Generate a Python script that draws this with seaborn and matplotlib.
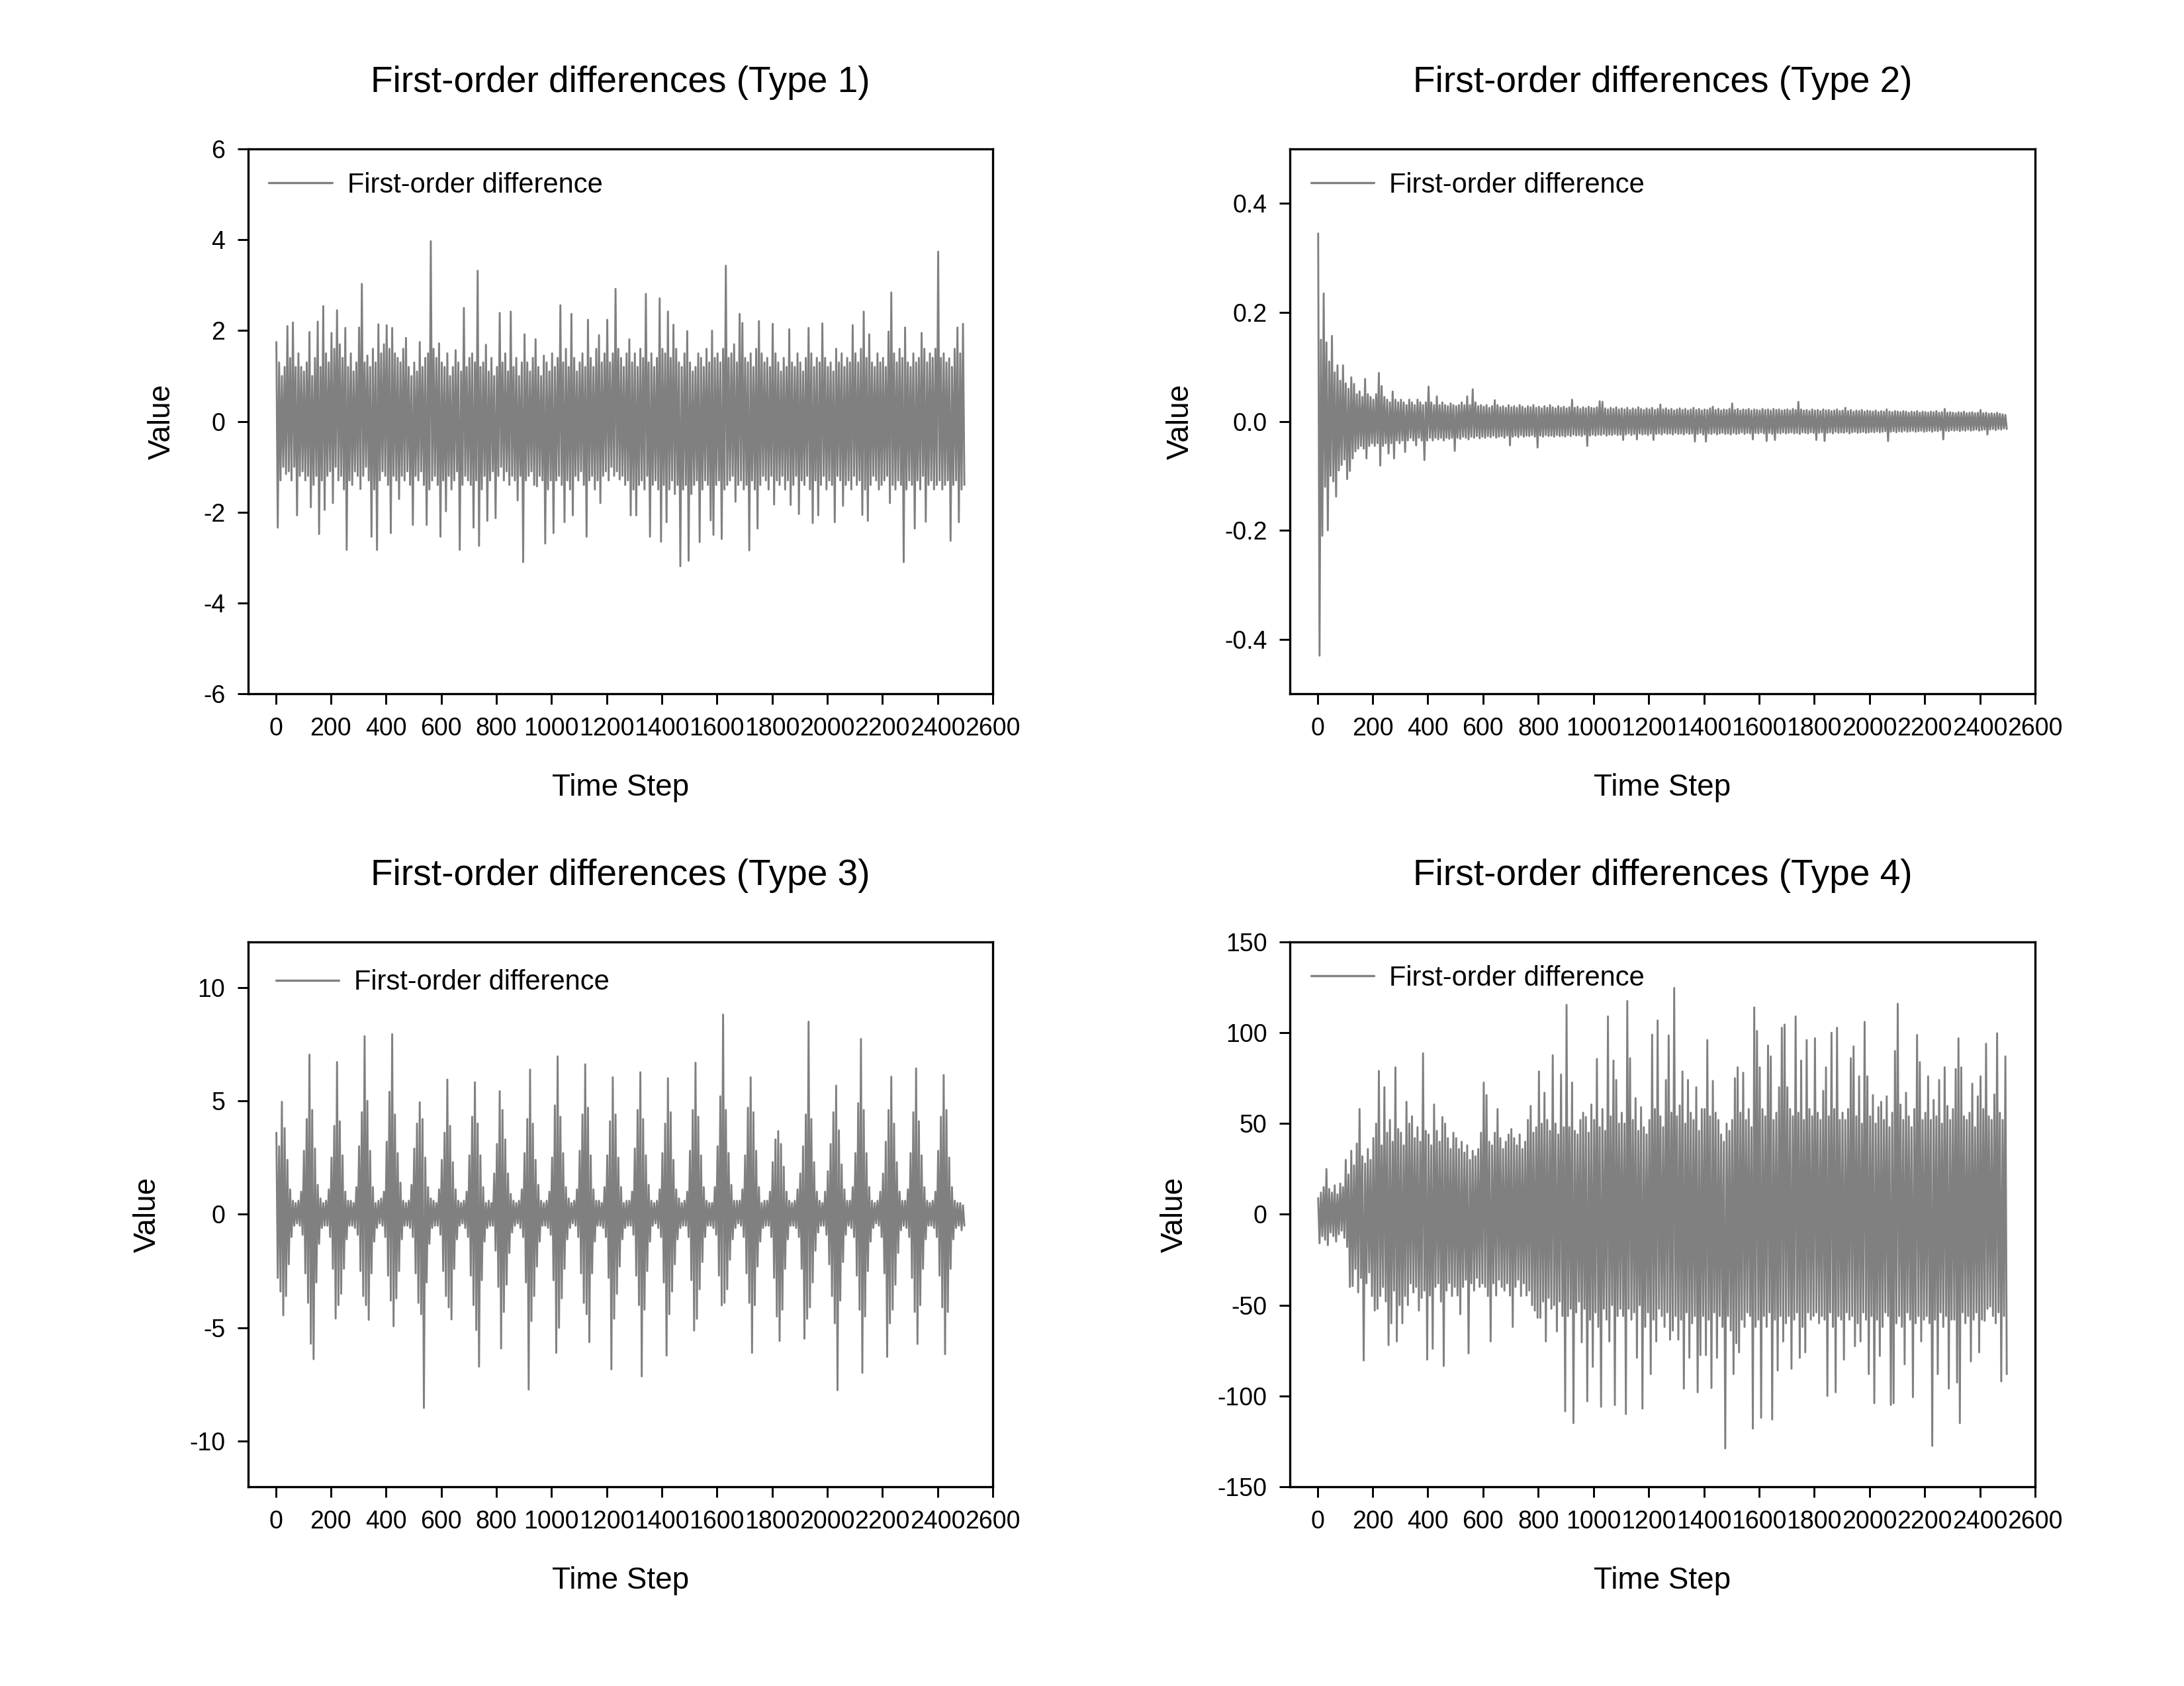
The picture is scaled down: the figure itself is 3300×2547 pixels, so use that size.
import numpy as np
import pandas as pd
import matplotlib
matplotlib.use("Agg")
import matplotlib.pyplot as plt
import seaborn as sns

# ---------------- data (per 10-step window: local high / local low) -------------
bin_width = 10
xticks_time = list(range(0, 2601, 200))

titles = ["First-order differences (Type 1)", "First-order differences (Type 2)",
          "First-order differences (Type 3)", "First-order differences (Type 4)"]
legend_label = "First-order difference"
x_label = "Time Step"
y_label = "Value"

type1_hi = [
    1.75, 1.3, 1.0, 1.2, 2.1, 1.4, 2.18, 1.2, 1.5, 1.2,
    1.1, 1.3, 1.97, 1.0, 1.4, 2.2, 1.2, 2.54, 1.5, 1.3,
    1.95, 1.6, 2.45, 1.7, 1.4, 2.06, 1.2, 1.5, 1.1, 1.3,
    2.07, 3.03, 1.3, 1.45, 1.2, 1.6, 1.3, 2.14, 1.5, 1.7,
    2.12, 1.6, 2.06, 1.5, 1.4, 1.3, 1.6, 1.84, 1.2, 1.0,
    1.3, 1.1, 1.75, 1.2, 1.4, 1.5, 3.97, 1.6, 1.4, 1.72,
    1.3, 1.2, 1.5, 1.0, 1.2, 1.57, 1.3, 1.1, 2.5, 1.2,
    1.4, 1.5, 1.3, 3.32, 1.2, 1.3, 1.69, 1.1, 1.4, 1.0,
    1.2, 2.39, 1.3, 1.5, 1.1, 2.42, 1.2, 1.4, 1.0, 1.3,
    1.92, 1.3, 1.1, 1.4, 1.81, 1.2, 1.0, 1.45, 1.3, 1.1,
    1.5, 1.2, 1.4, 2.56, 1.3, 1.6, 1.2, 2.37, 1.4, 1.1,
    1.3, 1.5, 1.2, 2.24, 1.4, 1.2, 1.6, 1.9, 1.3, 1.5,
    2.24, 1.3, 1.5, 2.92, 1.6, 1.4, 1.2, 1.5, 1.81, 1.3,
    1.5, 1.2, 1.6, 1.4, 2.81, 1.3, 1.5, 1.2, 1.4, 2.71,
    1.6, 1.5, 2.42, 1.4, 2.13, 1.6, 1.3, 1.2, 1.5, 1.99,
    1.3, 1.1, 1.2, 1.5, 1.4, 1.2, 1.6, 1.3, 2.0, 1.4,
    1.5, 1.3, 1.6, 3.43, 1.4, 1.5, 1.7, 1.3, 2.37, 2.17,
    1.4, 1.3, 1.5, 1.2, 1.6, 2.21, 1.5, 1.3, 1.4, 1.2,
    2.15, 1.5, 1.3, 1.1, 1.4, 1.2, 2.03, 1.3, 1.2, 1.5,
    1.3, 1.1, 1.4, 2.06, 1.5, 1.2, 1.4, 1.3, 2.16, 1.4,
    1.2, 1.3, 1.1, 1.6, 1.3, 1.5, 1.2, 1.4, 1.3, 2.12,
    1.5, 1.3, 1.6, 2.42, 1.4, 1.92, 1.3, 1.2, 1.5, 1.3,
    1.4, 1.2, 1.98, 2.84, 1.5, 1.3, 1.6, 1.4, 2.07, 1.3,
    1.2, 1.5, 1.3, 1.4, 1.95, 1.6, 1.3, 1.5, 1.4, 1.6,
    3.74, 1.4, 1.5, 1.3, 1.39, 1.2, 1.6, 2.07, 1.5, 2.15,
]
type1_lo = [
    -2.34, -1.3, -1.0, -1.16, -1.1, -1.3, -1.0, -2.07, -1.2, -1.1,
    -1.3, -1.2, -1.89, -1.4, -1.2, -2.48, -1.3, -1.95, -1.2, -1.1,
    -1.8, -1.0, -1.3, -1.2, -1.5, -2.83, -1.3, -1.4, -1.1, -1.2,
    -1.49, -1.2, -1.0, -1.3, -2.54, -1.5, -2.83, -1.3, -1.1, -1.2,
    -1.4, -2.46, -1.2, -1.3, -1.71, -1.2, -1.3, -1.1, -1.4, -2.28,
    -1.2, -1.3, -1.1, -1.4, -2.28, -1.5, -1.3, -1.2, -1.4, -2.54,
    -1.3, -1.98, -1.2, -1.5, -1.3, -1.1, -2.83, -1.4, -1.2, -1.3,
    -1.4, -2.34, -1.3, -2.74, -1.5, -1.2, -2.19, -1.3, -1.1, -2.13,
    -1.2, -1.0, -1.3, -1.1, -1.4, -1.2, -1.3, -1.74, -1.2, -3.1,
    -1.3, -1.2, -1.1, -1.4, -1.43, -1.2, -1.3, -2.69, -1.5, -1.3,
    -2.46, -1.3, -1.2, -1.4, -2.22, -1.3, -1.5, -2.07, -1.2, -1.3,
    -1.1, -1.4, -2.54, -1.3, -1.2, -1.5, -1.3, -1.8, -1.2, -1.1,
    -1.3, -1.0, -1.2, -1.1, -1.28, -1.2, -1.4, -1.3, -2.07, -1.5,
    -2.07, -1.4, -1.3, -1.5, -1.2, -2.54, -1.4, -1.3, -1.5, -2.65,
    -1.4, -2.22, -1.5, -1.3, -1.6, -1.4, -3.19, -1.5, -1.4, -3.07,
    -1.6, -1.4, -1.3, -2.66, -1.5, -1.3, -1.4, -2.18, -2.5, -1.4,
    -1.3, -2.59, -1.5, -1.4, -1.3, -1.2, -1.77, -1.4, -1.3, -1.5,
    -1.4, -2.84, -1.3, -1.5, -2.36, -1.4, -1.2, -1.3, -1.5, -1.2,
    -1.83, -1.3, -1.4, -1.2, -1.5, -1.3, -1.84, -1.4, -1.2, -2.04,
    -1.3, -1.4, -1.2, -1.5, -2.24, -1.3, -2.07, -1.4, -1.2, -1.5,
    -1.3, -1.4, -2.22, -1.2, -1.3, -1.86, -1.4, -1.3, -1.5, -1.2,
    -1.4, -1.3, -2.06, -1.5, -2.19, -1.4, -1.2, -1.3, -1.5, -1.4,
    -1.3, -1.2, -1.8, -1.4, -1.5, -1.3, -1.4, -3.1, -1.5, -1.3,
    -1.4, -2.36, -1.3, -1.5, -1.2, -2.21, -1.4, -1.3, -1.5, -1.4,
    -1.3, -1.5, -1.4, -1.3, -2.63, -1.4, -1.3, -2.22, -1.5, -1.4,
]

type2_hi = [
    0.345, 0.15, 0.235, 0.145, 0.11, 0.157, 0.09, 0.103, 0.075, 0.103,
    0.07, 0.06, 0.081, 0.069, 0.05, 0.055, 0.045, 0.078, 0.05, 0.045,
    0.04, 0.05, 0.089, 0.065, 0.045, 0.04, 0.035, 0.055, 0.04, 0.035,
    0.04, 0.035, 0.03, 0.04, 0.035, 0.03, 0.04, 0.035, 0.03, 0.035,
    0.064, 0.035, 0.03, 0.046, 0.03, 0.035, 0.03, 0.028, 0.033, 0.03,
    0.028, 0.03, 0.035, 0.03, 0.046, 0.03, 0.059, 0.035, 0.028, 0.03,
    0.027, 0.03, 0.025, 0.028, 0.039, 0.03, 0.026, 0.028, 0.025, 0.03,
    0.026, 0.028, 0.025, 0.03, 0.027, 0.024, 0.028, 0.026, 0.03, 0.025,
    0.027, 0.024, 0.028, 0.025, 0.03, 0.026, 0.024, 0.028, 0.025, 0.027,
    0.024, 0.026, 0.04, 0.025, 0.027, 0.023, 0.026, 0.024, 0.027, 0.025,
    0.024, 0.026, 0.037, 0.036, 0.024, 0.022, 0.025, 0.023, 0.026, 0.022,
    0.024, 0.022, 0.025, 0.021, 0.024, 0.022, 0.026, 0.023, 0.021, 0.024,
    0.022, 0.025, 0.021, 0.023, 0.031, 0.022, 0.024, 0.021, 0.023, 0.02,
    0.022, 0.024, 0.021, 0.023, 0.02, 0.022, 0.025, 0.021, 0.023, 0.02,
    0.022, 0.021, 0.024, 0.027, 0.021, 0.023, 0.02, 0.022, 0.021, 0.023,
    0.033, 0.021, 0.023, 0.02, 0.022, 0.021, 0.023, 0.02, 0.022, 0.021,
    0.02, 0.023, 0.021, 0.022, 0.02, 0.023, 0.021, 0.022, 0.02, 0.021,
    0.022, 0.02, 0.023, 0.021, 0.036, 0.022, 0.02, 0.021, 0.019, 0.022,
    0.02, 0.021, 0.019, 0.022, 0.02, 0.021, 0.019, 0.02, 0.022, 0.019,
    0.02, 0.025, 0.019, 0.021, 0.018, 0.02, 0.019, 0.021, 0.018, 0.02,
    0.019, 0.018, 0.02, 0.017, 0.019, 0.018, 0.022, 0.018, 0.017, 0.019,
    0.018, 0.017, 0.019, 0.018, 0.016, 0.018, 0.017, 0.019, 0.016, 0.018,
    0.017, 0.016, 0.018, 0.017, 0.019, 0.016, 0.017, 0.023, 0.016, 0.017,
    0.016, 0.015, 0.017, 0.016, 0.018, 0.015, 0.016, 0.017, 0.015, 0.016,
    0.021, 0.015, 0.016, 0.014, 0.015, 0.014, 0.016, 0.014, 0.013, 0.012,
]
type2_lo = [
    -0.43, -0.21, -0.12, -0.2, -0.1, -0.11, -0.138, -0.09, -0.08, -0.07,
    -0.106, -0.091, -0.068, -0.055, -0.05, -0.045, -0.05, -0.068, -0.045, -0.04,
    -0.045, -0.04, -0.081, -0.045, -0.04, -0.059, -0.04, -0.068, -0.035, -0.04,
    -0.035, -0.056, -0.035, -0.03, -0.035, -0.044, -0.03, -0.035, -0.071, -0.035,
    -0.03, -0.035, -0.03, -0.033, -0.03, -0.035, -0.03, -0.032, -0.03, -0.054,
    -0.03, -0.032, -0.028, -0.03, -0.033, -0.028, -0.03, -0.027, -0.031, -0.028,
    -0.03, -0.027, -0.029, -0.026, -0.03, -0.028, -0.027, -0.03, -0.026, -0.044,
    -0.028, -0.026, -0.029, -0.025, -0.028, -0.026, -0.027, -0.025, -0.028, -0.048,
    -0.026, -0.028, -0.025, -0.027, -0.026, -0.028, -0.025, -0.027, -0.026, -0.028,
    -0.025, -0.027, -0.024, -0.026, -0.025, -0.027, -0.024, -0.045, -0.026, -0.024,
    -0.026, -0.024, -0.025, -0.023, -0.026, -0.024, -0.025, -0.023, -0.025, -0.024,
    -0.034, -0.024, -0.022, -0.025, -0.023, -0.033, -0.022, -0.024, -0.023, -0.025,
    -0.022, -0.034, -0.023, -0.022, -0.024, -0.021, -0.023, -0.022, -0.024, -0.021,
    -0.023, -0.022, -0.024, -0.021, -0.023, -0.022, -0.037, -0.023, -0.021, -0.024,
    -0.037, -0.022, -0.023, -0.021, -0.024, -0.022, -0.021, -0.023, -0.022, -0.024,
    -0.021, -0.023, -0.022, -0.02, -0.023, -0.021, -0.022, -0.033, -0.021, -0.022,
    -0.02, -0.022, -0.036, -0.021, -0.023, -0.034, -0.021, -0.022, -0.02, -0.022,
    -0.021, -0.02, -0.022, -0.021, -0.023, -0.02, -0.021, -0.022, -0.02, -0.021,
    -0.034, -0.021, -0.02, -0.036, -0.021, -0.02, -0.022, -0.019, -0.021, -0.02,
    -0.021, -0.019, -0.022, -0.02, -0.019, -0.021, -0.02, -0.019, -0.021, -0.02,
    -0.019, -0.02, -0.018, -0.02, -0.019, -0.018, -0.036, -0.019, -0.018, -0.02,
    -0.018, -0.019, -0.017, -0.019, -0.018, -0.017, -0.019, -0.018, -0.017, -0.019,
    -0.018, -0.017, -0.019, -0.017, -0.018, -0.016, -0.033, -0.017, -0.018, -0.016,
    -0.017, -0.016, -0.018, -0.016, -0.017, -0.015, -0.017, -0.016, -0.015, -0.017,
    -0.016, -0.015, -0.024, -0.015, -0.014, -0.016, -0.014, -0.015, -0.013, -0.014,
]

type3_hi = [
    3.6, 3.0, 4.96, 3.8, 2.4, 1.1, 0.6, 0.5, 0.6, 1.0,
    2.8, 4.2, 7.04, 4.6, 2.9, 1.3, 0.7, 0.5, 0.6, 1.1,
    2.5, 3.9, 6.71, 4.1, 2.6, 1.0, 0.6, 0.6, 0.5, 1.2,
    3.0, 4.5, 7.85, 5.0, 2.8, 1.2, 0.5, 0.6, 0.7, 1.0,
    3.2, 5.4, 7.94, 4.4, 2.7, 1.4, 0.6, 0.5, 0.6, 1.3,
    2.9, 4.0, 4.94, 4.2, 2.5, 1.2, 0.7, 0.6, 0.5, 1.1,
    2.4, 3.6, 5.94, 3.9, 2.3, 1.1, 0.6, 0.5, 0.6, 1.0,
    2.6, 4.3, 5.82, 4.0, 2.6, 1.2, 0.5, 0.6, 0.5, 1.8,
    3.1, 5.43, 4.6, 3.3, 1.8, 0.9, 0.6, 0.5, 0.6, 1.1,
    2.7, 4.2, 6.38, 4.0, 2.4, 1.3, 0.6, 0.5, 0.6, 1.0,
    2.5, 4.8, 6.96, 4.3, 2.7, 1.2, 0.7, 0.5, 0.6, 1.1,
    2.8, 4.4, 6.61, 4.7, 2.6, 1.1, 0.6, 0.6, 0.5, 1.2,
    2.6, 4.1, 6.04, 4.4, 2.5, 1.2, 0.5, 0.6, 0.6, 1.0,
    2.9, 4.6, 6.26, 4.2, 2.6, 1.3, 0.6, 0.5, 0.6, 1.1,
    2.7, 4.0, 6.0, 4.5, 2.4, 1.1, 0.7, 0.5, 0.6, 1.0,
    2.8, 4.6, 6.68, 4.3, 2.6, 1.2, 0.6, 0.5, 0.5, 1.2,
    3.0, 5.2, 8.8, 4.6, 2.7, 1.3, 0.6, 0.6, 0.6, 1.1,
    2.6, 4.7, 6.04, 4.5, 2.8, 1.2, 0.5, 0.6, 0.6, 1.0,
    2.3, 3.3, 3.67, 3.1, 2.1, 1.0, 0.6, 0.5, 0.6, 1.1,
    1.8, 3.0, 4.4, 8.49, 4.2, 2.3, 1.0, 0.6, 0.5, 1.0,
    1.9, 3.1, 4.5, 5.67, 3.7, 2.2, 1.1, 0.6, 0.6, 1.2,
    2.7, 4.9, 7.73, 4.6, 2.7, 1.2, 0.6, 0.5, 0.6, 1.0,
    1.8, 3.2, 4.6, 6.06, 4.0, 2.3, 1.0, 0.6, 0.6, 1.1,
    2.7, 4.5, 6.43, 4.1, 2.6, 1.2, 0.6, 0.5, 0.6, 1.0,
    2.8, 4.3, 6.14, 4.6, 2.5, 1.2, 0.6, 0.5, 0.5, 0.4,
]
type3_lo = [
    -2.8, -3.4, -4.45, -3.6, -2.2, -1.0, -0.5, -0.4, -0.5, -0.9,
    -2.6, -3.9, -5.7, -6.38, -3.0, -1.3, -0.6, -0.5, -0.5, -1.0,
    -2.4, -4.59, -4.0, -3.5, -2.4, -1.1, -0.5, -0.5, -0.6, -0.9,
    -2.5, -3.6, -4.0, -4.65, -2.6, -1.2, -0.6, -0.4, -0.5, -1.0,
    -2.7, -3.8, -4.93, -3.7, -2.5, -1.1, -0.5, -0.5, -0.6, -1.0,
    -2.6, -3.9, -4.4, -8.53, -3.0, -1.3, -0.6, -0.5, -0.5, -0.9,
    -2.5, -3.6, -4.1, -4.63, -2.4, -1.1, -0.5, -0.4, -0.6, -1.0,
    -2.7, -4.0, -5.1, -6.71, -2.9, -1.2, -0.6, -0.5, -0.5, -1.6,
    -3.2, -5.91, -4.3, -3.1, -1.7, -0.8, -0.5, -0.4, -0.6, -1.0,
    -3.0, -7.72, -4.7, -3.6, -2.3, -1.2, -0.5, -0.5, -0.6, -0.9,
    -2.9, -6.1, -5.0, -3.7, -2.4, -1.1, -0.6, -0.4, -0.5, -1.0,
    -2.6, -3.9, -4.4, -5.63, -2.6, -1.2, -0.5, -0.5, -0.6, -1.0,
    -2.8, -6.83, -4.6, -3.5, -2.3, -1.1, -0.6, -0.5, -0.5, -0.9,
    -2.7, -4.0, -7.14, -4.2, -2.5, -1.2, -0.5, -0.4, -0.6, -1.0,
    -3.0, -6.22, -4.4, -3.4, -2.2, -1.1, -0.6, -0.5, -0.5, -1.0,
    -2.9, -5.12, -4.6, -3.3, -2.1, -1.0, -0.5, -0.5, -0.6, -0.9,
    -2.7, -4.01, -3.9, -3.3, -2.0, -1.1, -0.6, -0.4, -0.5, -1.0,
    -2.6, -3.9, -6.1, -4.0, -2.3, -1.2, -0.6, -0.5, -0.5, -1.0,
    -2.8, -4.5, -5.58, -4.2, -2.4, -1.1, -0.5, -0.5, -0.6, -1.0,
    -2.4, -5.48, -4.6, -4.1, -3.0, -1.6, -0.8, -0.5, -0.5, -0.9,
    -2.2, -3.6, -4.8, -7.75, -3.8, -2.1, -0.9, -0.5, -0.6, -1.0,
    -2.7, -4.2, -6.98, -4.5, -2.5, -1.2, -0.6, -0.4, -0.5, -1.0,
    -2.6, -6.28, -4.8, -4.2, -3.1, -1.7, -0.7, -0.5, -0.6, -1.0,
    -2.8, -4.3, -5.71, -4.0, -2.4, -1.1, -0.5, -0.5, -0.6, -1.0,
    -2.7, -4.1, -6.16, -4.3, -2.4, -1.1, -0.6, -0.5, -0.7, -0.5,
]

type4_hi = [
    9, 12, 15, 25, 14, 12, 16, 11, 17, 15,
    30, 22, 35, 27, 39, 58, 32, 28, 36, 30,
    42, 50, 79, 38, 70, 45, 52, 40, 81, 47,
    45, 38, 62, 50, 54, 42, 48, 40, 88.7, 46,
    44, 38, 60.5, 46, 40, 53.6, 50, 42, 36, 45,
    42, 36, 40, 34, 38, 30, 35, 32, 36, 45,
    72.6, 65.7, 40, 38, 45, 58, 42, 36, 40, 44,
    47, 42, 38, 44, 36, 40, 52, 59.7, 45, 48,
    78.7, 50, 67, 52, 46, 87.6, 50, 44, 77, 48,
    115.4, 48, 72.6, 46, 44, 52, 56, 53.6, 45, 60.5,
    52, 85.6, 48, 58, 46, 109, 54, 84.7, 74, 50,
    56, 50, 117.5, 86, 52, 64, 46, 59, 48, 44,
    52, 99, 58, 106.8, 54, 48, 74, 98.5, 56, 124.7,
    54, 60, 78.7, 50, 74, 56, 52, 70, 46, 58,
    58, 96, 54, 73.5, 56, 52, 44, 40, 50, 46,
    52, 75, 81, 56, 78, 52, 58, 48, 114, 101,
    81, 58, 54, 93, 87, 52, 56, 70, 102.8, 104.5,
    70, 58, 54, 109, 56, 84.7, 52, 96, 58, 54,
    97, 56, 52, 68, 81, 54, 100, 58, 102.8, 52,
    56, 52, 58, 86, 92.5, 54, 76, 50, 106, 76,
    54, 65.7, 50, 59, 62, 52, 65, 48, 56, 90,
    116, 60.5, 52, 67, 54, 48, 58, 98.8, 83.8, 52,
    56, 76, 52, 63, 54, 74, 50, 81, 59.7, 52,
    58, 80, 97, 81, 54, 52, 56, 72, 48, 65,
    76, 58, 94, 54, 52, 66, 99.7, 56, 52, 87,
]
type4_lo = [
    -16, -12, -14, -17, -10, -12, -15, -11, -9, -13,
    -18, -40, -39.5, -30, -43, -35, -80.5, -38, -32, -45,
    -53, -52, -45, -40, -48, -72, -60, -42, -70, -50,
    -60, -45, -50, -38, -43, -40, -53, -46, -42, -80,
    -44.7, -74, -40, -38, -48, -83.5, -42, -37.8, -45, -40,
    -44.7, -55, -40, -36, -76.6, -38, -42, -35, -40, -38,
    -40, -45, -70, -38, -44.7, -36, -40, -42, -38, -44.7,
    -62, -40, -36, -45, -38, -44.7, -42, -50, -53, -57,
    -57, -48, -70, -46, -52, -50, -64.5, -48, -56, -108.5,
    -56, -52, -115, -54, -48, -70.5, -52, -103, -58, -84,
    -54, -62, -106, -52, -58, -70, -50, -105, -56, -52,
    -56, -110, -52, -58, -54, -79, -50, -107, -62, -54,
    -88, -58, -70, -52, -56, -62, -54, -69, -64, -56,
    -69, -58, -96, -54, -79, -60, -56, -98, -77.5, -56,
    -77.5, -58, -95.6, -54, -79, -56, -62, -128.9, -56, -64,
    -88, -71, -76, -58, -62, -54, -56, -118, -62, -58,
    -112, -56, -62, -54, -113, -58, -86, -56, -70, -60,
    -56, -85, -58, -54, -79, -62, -76, -54, -58, -56,
    -54, -60, -56, -58, -100, -54, -62, -98, -56, -58,
    -80, -54, -58, -56, -72.6, -60, -70, -54, -58, -88,
    -56, -104, -58, -78, -62, -54, -56, -105, -104, -60,
    -56, -62, -82.6, -54, -58, -100.7, -60, -56, -70, -58,
    -56, -60, -127.5, -58, -88, -54, -62, -56, -96, -58,
    -58, -92.6, -115, -54, -60, -56, -81, -58, -54, -76,
    -58, -58.6, -52, -50.7, -56, -60, -54, -92, -56, -88,
]

panels = [
    dict(hi=type1_hi, lo=type1_lo, ylim=(-6, 6), yticks=[-6, -4, -2, 0, 2, 4, 6], fmt="{:.0f}",
         ylab_x=-0.096, leg=(0.0276, 0.958)),
    dict(hi=type2_hi, lo=type2_lo, ylim=(-0.5, 0.5), yticks=[-0.4, -0.2, 0.0, 0.2, 0.4], fmt="{:.1f}",
         ylab_x=-0.127, leg=(0.028, 0.958)),
    dict(hi=type3_hi, lo=type3_lo, ylim=(-12, 12), yticks=[-10, -5, 0, 5, 10], fmt="{:.0f}",
         ylab_x=-0.116, leg=(0.037, 0.95)),
    dict(hi=type4_hi, lo=type4_lo, ylim=(-150, 150), yticks=[-150, -100, -50, 0, 50, 100, 150], fmt="{:.0f}",
         ylab_x=-0.135, leg=(0.028, 0.958)),
]

# ---------------- style ----------------
sns.set_style("ticks")
plt.rcParams['font.family'] = ['Liberation Sans', 'DejaVu Sans']
plt.rcParams['axes.unicode_minus'] = False
plt.rcParams['text.color'] = 'black'
plt.rcParams['axes.labelcolor'] = 'black'
plt.rcParams['xtick.color'] = 'black'
plt.rcParams['ytick.color'] = 'black'
plt.rcParams['axes.edgecolor'] = 'black'

fig = plt.figure(figsize=(11, 8.49), dpi=300)
axes_rects = [
    [0.1136, 0.5885, 0.3409, 0.3231],
    [0.5906, 0.5885, 0.3412, 0.3231],
    [0.1136, 0.1182, 0.3409, 0.3231],
    [0.5906, 0.1182, 0.3412, 0.3231],
]
line_color = "#808080"

for rect, p, title in zip(axes_rects, panels, titles):
    ax = fig.add_axes(rect)
    hi = np.asarray(p["hi"], dtype=float)
    lo = np.asarray(p["lo"], dtype=float)
    n = len(hi)
    vals = np.column_stack([hi, lo]).ravel()
    t = np.arange(2 * n) * (bin_width / 2) + bin_width / 4
    df = pd.DataFrame({"Time Step": t, "Value": vals})
    sns.lineplot(data=df, x="Time Step", y="Value", ax=ax, color=line_color,
                 linewidth=0.7, estimator=None, sort=False, label=legend_label)

    ax.set_xlim(-100, 2600)
    ax.set_ylim(*p["ylim"])
    ax.set_xticks(xticks_time)
    ax.set_xticklabels([str(v) for v in xticks_time])
    ax.set_yticks(p["yticks"])
    ax.set_yticklabels([p["fmt"].format(v) for v in p["yticks"]])
    ax.tick_params(axis="both", which="major", direction="out", length=3.8, width=0.7,
                   labelsize=9, pad=4.5, colors="black", top=False, right=False)
    for s in ax.spines.values():
        s.set_visible(True)
        s.set_color("black")
        s.set_linewidth(0.8)

    ax.set_title(title, fontsize=13.2, pad=20.6, color="black")
    ax.set_xlabel(x_label, fontsize=11, color="black")
    ax.set_ylabel(y_label, fontsize=11, color="black")
    ax.xaxis.set_label_coords(0.5, -0.146)
    ax.yaxis.set_label_coords(p["ylab_x"], 0.5)

    leg = ax.legend(loc="upper left", bbox_to_anchor=p["leg"], frameon=False,
                    fontsize=10, borderpad=0, borderaxespad=0,
                    handlelength=2.3, handletextpad=0.55)
    for txt in leg.get_texts():
        txt.set_color("black")
    for h in leg.get_lines():
        h.set_linewidth(0.8)

fig.savefig("out.png", dpi=300, facecolor="white")
